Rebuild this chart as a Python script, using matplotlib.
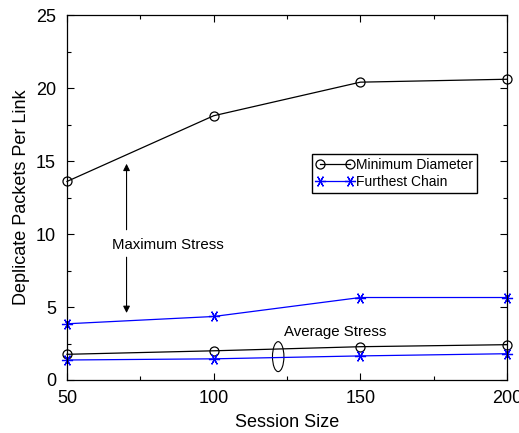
import matplotlib
matplotlib.use("Agg")
import matplotlib.pyplot as plt
from matplotlib.patches import Ellipse

plt.rcParams['font.family'] = ['Liberation Sans', 'DejaVu Sans']

# data
session = [50, 100, 150, 200]
mindiam_max = [13.6, 18.1, 20.4, 20.6]
chain_max = [3.85, 4.35, 5.65, 5.65]
mindiam_avg = [1.76, 2.0, 2.28, 2.42]
chain_avg = [1.37, 1.45, 1.65, 1.8]

fig = plt.figure(figsize=(5.19, 4.33), dpi=100)
ax = fig.add_axes([67/519, 53/433, 440/519, 365/433])

star = (6, 2, 90)
ax.plot(session, mindiam_max, color='k', lw=0.9, marker='o', ms=6.5, mfc='none', mew=0.9,
        label='Minimum Diameter', clip_on=False)
ax.plot(session, chain_max, color='b', lw=0.9, marker=star, ms=8, mew=0.9,
        label='Furthest Chain', clip_on=False)
ax.plot(session, mindiam_avg, color='k', lw=0.9, marker='o', ms=6.5, mfc='none', mew=0.9, clip_on=False)
ax.plot(session, chain_avg, color='b', lw=0.9, marker=star, ms=8, mew=0.9, clip_on=False)

ax.set_xlim(50, 200)
ax.set_ylim(0, 25)
ax.set_xticks([50, 100, 150, 200])
ax.set_xticks([75, 125, 175], minor=True)
ax.set_yticks([0, 5, 10, 15, 20, 25])
ax.set_yticks([2.5, 7.5, 12.5, 17.5, 22.5], minor=True)
ax.tick_params(which='both', direction='in', top=True, right=True, labelsize=13, width=0.8)
ax.tick_params(which='major', length=5)
ax.tick_params(which='minor', length=3)
ax.tick_params(axis='x', pad=7)
ax.tick_params(axis='y', pad=8)
for s in ax.spines.values():
    s.set_linewidth(0.9)

ax.set_xlabel('Session Size', fontsize=13, labelpad=5)
ax.set_ylabel('Deplicate Packets Per Link', fontsize=13, labelpad=4)

# Maximum stress annotation
ax.text(84.4, 9.25, 'Maximum Stress', fontsize=10.8, ha='center', va='center')
ax.annotate('', xy=(70.3, 15.0), xytext=(70.3, 10.1),
            arrowprops=dict(arrowstyle='-|>', color='k', lw=0.8, mutation_scale=10))
ax.annotate('', xy=(70.3, 4.4), xytext=(70.3, 8.6),
            arrowprops=dict(arrowstyle='-|>', color='k', lw=0.8, mutation_scale=10))

# Average stress annotation
ax.text(141.5, 3.3, 'Average Stress', fontsize=10.8, ha='center', va='center')
ax.add_patch(Ellipse((122, 1.6), 3.9, 2.05, fill=False, ec='k', lw=0.8))

ax.legend(loc='upper left', bbox_to_anchor=(245/440, 226/365), fontsize=10, numpoints=2,
          frameon=True, fancybox=False, edgecolor='k', framealpha=1,
          handlelength=2.7, handletextpad=0.15, borderpad=0.3, labelspacing=0.2,
          borderaxespad=0)

fig.savefig('out.png', dpi=100)
